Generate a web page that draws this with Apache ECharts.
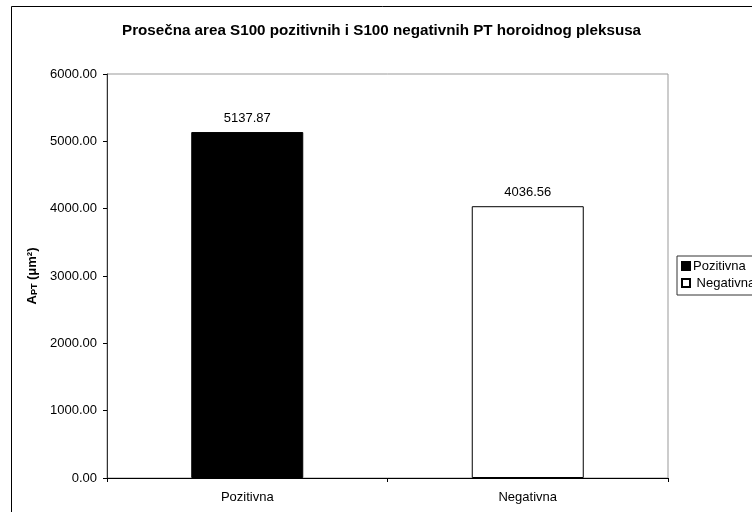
<!DOCTYPE html>
<html>
<head>
<meta charset="utf-8">
<script src="https://cdn.jsdelivr.net/npm/echarts@6/dist/echarts.min.js"></script>
<style>
html,body{margin:0;padding:0;background:#fff;}
#chart{width:752px;height:512px;}
</style>
</head>
<body>
<div id="chart"></div>
<script>
const categories = ['Pozitivna', 'Negativna'];
const pozitivnaValues = [5137.87, '-'];
const negativnaValues = ['-', 4036.56];
const titleText = 'Prosečna area S100 pozitivnih i S100 negativnih PT horoidnog pleksusa';
const yMin = 0, yMax = 6000, yInterval = 1000;

const chart = echarts.init(document.getElementById('chart'), null, {renderer: 'canvas'});
const font = 'Liberation Sans, Arial, sans-serif';
const labelOpt = {
  show: true, position: 'top', distance: 7, color: '#000', fontSize: 13, fontFamily: font,
  formatter: p => Number(p.value).toFixed(2)
};
chart.setOption({
  animation: false,
  backgroundColor: '#fff',
  graphic: [{
    type: 'rect', z: -10,
    shape: {x: 11.5, y: 6.5, width: 900, height: 700},
    style: {fill: 'none', stroke: '#000', lineWidth: 1}
  }],
  title: {
    text: titleText, left: 122, top: 23, padding: 0,
    textStyle: {fontFamily: font, fontSize: 15.2, fontWeight: 'bold', color: '#000'}
  },
  legend: {
    orient: 'vertical', left: 677, top: 256,
    padding: [3, 4, 5, 4],
    itemWidth: 8, itemHeight: 8, itemGap: 3,
    borderColor: '#333', borderWidth: 1,
    icon: 'rect',
    formatter: name => (name === 'Negativna' ? ' ' + name : name),
    textStyle: {fontFamily: font, fontSize: 13, lineHeight: 14, color: '#000', padding: [0, 0, 0, -2]},
    data: categories
  },
  grid: {
    left: 107, right: 84, top: 74, bottom: 34,
    show: true, borderColor: '#999', borderWidth: 1, backgroundColor: '#fff'
  },
  xAxis: {
    type: 'category', data: categories,
    axisLine: {lineStyle: {color: '#000', width: 1}},
    axisTick: {show: true, length: 4, lineStyle: {color: '#000'}},
    axisLabel: {color: '#000', fontSize: 13, fontFamily: font, margin: 13}
  },
  yAxis: {
    type: 'value', min: yMin, max: yMax, interval: yInterval,
    name: '{a|A}{s|PT}{a| (μm²)}',
    nameLocation: 'middle', nameGap: 66, nameRotate: 90,
    nameTextStyle: {
      rich: {
        a: {fontFamily: font, fontSize: 13, fontWeight: 'bold', color: '#000', verticalAlign: 'bottom', lineHeight: 17},
        s: {fontFamily: font, fontSize: 9, fontWeight: 'bold', color: '#000', verticalAlign: 'bottom', lineHeight: 13}
      }
    },
    axisLine: {show: true, lineStyle: {color: '#333', width: 1}},
    axisTick: {show: true, length: 4, lineStyle: {color: '#000'}},
    splitLine: {show: false},
    axisLabel: {color: '#000', fontSize: 13, fontFamily: font, margin: 10,
      formatter: v => v.toFixed(2)}
  },
  series: [
    {
      name: 'Pozitivna', type: 'bar', stack: 'all', barWidth: 112,
      data: pozitivnaValues,
      itemStyle: {color: '#000', borderColor: '#000', borderWidth: 1},
      label: labelOpt
    },
    {
      name: 'Negativna', type: 'bar', stack: 'all', barWidth: 112,
      data: negativnaValues,
      itemStyle: {color: '#fff', borderColor: '#000', borderWidth: 1},
      label: labelOpt
    }
  ]
});
</script>
</body>
</html>
